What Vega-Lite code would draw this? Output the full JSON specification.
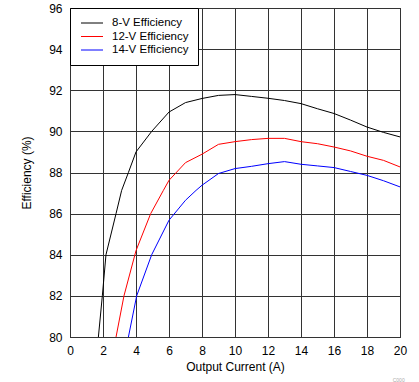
{
  "$schema": "https://vega.github.io/schema/vega-lite/v6.json",
  "width": 330,
  "height": 329,
  "autosize": {"type": "none"},
  "padding": {"left": 70, "top": 8, "right": 19, "bottom": 45},
  "background": "white",
  "title": {"text": "C000", "orient": "bottom", "anchor": "end", "fontSize": 5, "color": "#aaaaaa", "font": "Liberation Sans", "fontWeight": "normal", "offset": 6, "dx": -2},
  "config": {
    "font": "Liberation Sans",
    "view": {"stroke": "black", "strokeWidth": 1},
    "axis": {
      "gridColor": "#333333", "gridOpacity": 1, "gridWidth": 1,
      "domain": false, "ticks": false, "labelFlush": false, "labelOverlap": false,
      "labelFont": "Liberation Sans", "labelFontSize": 12, "labelColor": "black",
      "titleFont": "Liberation Sans", "titleFontSize": 12, "titleFontWeight": "normal", "titleColor": "black"
    }
  },
  "data": {"values": [
    {"s": "8-V Efficiency", "x": 1.72, "y": 80},
    {"s": "8-V Efficiency", "x": 1.96, "y": 82},
    {"s": "8-V Efficiency", "x": 2.18, "y": 84},
    {"s": "8-V Efficiency", "x": 2.79, "y": 86},
    {"s": "8-V Efficiency", "x": 3.13, "y": 87.13},
    {"s": "8-V Efficiency", "x": 3.54, "y": 88},
    {"s": "8-V Efficiency", "x": 4, "y": 89.0},
    {"s": "8-V Efficiency", "x": 4.95, "y": 90},
    {"s": "8-V Efficiency", "x": 6, "y": 90.94},
    {"s": "8-V Efficiency", "x": 7, "y": 91.4},
    {"s": "8-V Efficiency", "x": 8, "y": 91.6},
    {"s": "8-V Efficiency", "x": 9, "y": 91.75},
    {"s": "8-V Efficiency", "x": 10, "y": 91.79},
    {"s": "8-V Efficiency", "x": 11, "y": 91.7},
    {"s": "8-V Efficiency", "x": 12, "y": 91.61},
    {"s": "8-V Efficiency", "x": 13, "y": 91.5},
    {"s": "8-V Efficiency", "x": 14, "y": 91.35},
    {"s": "8-V Efficiency", "x": 15, "y": 91.1},
    {"s": "8-V Efficiency", "x": 16, "y": 90.87},
    {"s": "8-V Efficiency", "x": 17, "y": 90.55},
    {"s": "8-V Efficiency", "x": 18, "y": 90.21},
    {"s": "8-V Efficiency", "x": 19, "y": 89.95},
    {"s": "8-V Efficiency", "x": 20, "y": 89.73},
    {"s": "12-V Efficiency", "x": 2.79, "y": 80},
    {"s": "12-V Efficiency", "x": 3.27, "y": 82},
    {"s": "12-V Efficiency", "x": 4, "y": 84.2},
    {"s": "12-V Efficiency", "x": 4.89, "y": 86},
    {"s": "12-V Efficiency", "x": 5.66, "y": 87.13},
    {"s": "12-V Efficiency", "x": 6, "y": 87.62},
    {"s": "12-V Efficiency", "x": 7, "y": 88.48},
    {"s": "12-V Efficiency", "x": 8, "y": 88.89},
    {"s": "12-V Efficiency", "x": 9, "y": 89.37},
    {"s": "12-V Efficiency", "x": 10, "y": 89.5},
    {"s": "12-V Efficiency", "x": 11, "y": 89.6},
    {"s": "12-V Efficiency", "x": 12, "y": 89.66},
    {"s": "12-V Efficiency", "x": 13, "y": 89.66},
    {"s": "12-V Efficiency", "x": 14, "y": 89.5},
    {"s": "12-V Efficiency", "x": 15, "y": 89.4},
    {"s": "12-V Efficiency", "x": 16, "y": 89.24},
    {"s": "12-V Efficiency", "x": 17, "y": 89.05},
    {"s": "12-V Efficiency", "x": 18, "y": 88.79},
    {"s": "12-V Efficiency", "x": 19, "y": 88.59},
    {"s": "12-V Efficiency", "x": 20, "y": 88.27},
    {"s": "14-V Efficiency", "x": 3.54, "y": 80},
    {"s": "14-V Efficiency", "x": 4.04, "y": 82},
    {"s": "14-V Efficiency", "x": 4.95, "y": 84},
    {"s": "14-V Efficiency", "x": 6, "y": 85.68},
    {"s": "14-V Efficiency", "x": 7, "y": 86.65},
    {"s": "14-V Efficiency", "x": 7.64, "y": 87.13},
    {"s": "14-V Efficiency", "x": 8, "y": 87.38},
    {"s": "14-V Efficiency", "x": 9, "y": 87.95},
    {"s": "14-V Efficiency", "x": 10, "y": 88.19},
    {"s": "14-V Efficiency", "x": 11, "y": 88.3},
    {"s": "14-V Efficiency", "x": 12, "y": 88.43},
    {"s": "14-V Efficiency", "x": 13, "y": 88.53},
    {"s": "14-V Efficiency", "x": 14, "y": 88.4},
    {"s": "14-V Efficiency", "x": 15, "y": 88.32},
    {"s": "14-V Efficiency", "x": 16, "y": 88.24},
    {"s": "14-V Efficiency", "x": 17, "y": 88.05},
    {"s": "14-V Efficiency", "x": 18, "y": 87.86},
    {"s": "14-V Efficiency", "x": 19, "y": 87.6},
    {"s": "14-V Efficiency", "x": 20, "y": 87.3}
  ]},
  "mark": {"type": "line", "strokeWidth": 1, "clip": true},
  "encoding": {
    "x": {"field": "x", "type": "quantitative", "title": "Output Current (A)",
          "scale": {"domain": [0, 20], "nice": false, "zero": false},
          "axis": {"values": [0,2,4,6,8,10,12,14,16,18,20], "labelPadding": 8, "titlePadding": 5}},
    "y": {"field": "y", "type": "quantitative", "title": "Efficiency (%)",
          "scale": {"domain": [80, 96], "nice": false, "zero": false},
          "axis": {"values": [80,82,84,86,88,90,92,94,96], "labelPadding": 8, "titlePadding": 15}},
    "color": {"field": "s", "type": "nominal",
              "scale": {"domain": ["8-V Efficiency", "12-V Efficiency", "14-V Efficiency"], "range": ["black", "red", "blue"]},
              "legend": {"title": null, "orient": "top-left", "offset": 0, "strokeColor": "black", "fillColor": "white",
                         "padding": 9, "symbolOffset": 7, "symbolType": "M-2,0H2", "symbolSize": 121, "symbolStrokeWidth": 1,
                         "labelFontSize": 11.5, "labelFont": "Liberation Sans", "labelColor": "black", "labelOffset": 14,
                         "rowPadding": 1.5}}
  }
}
